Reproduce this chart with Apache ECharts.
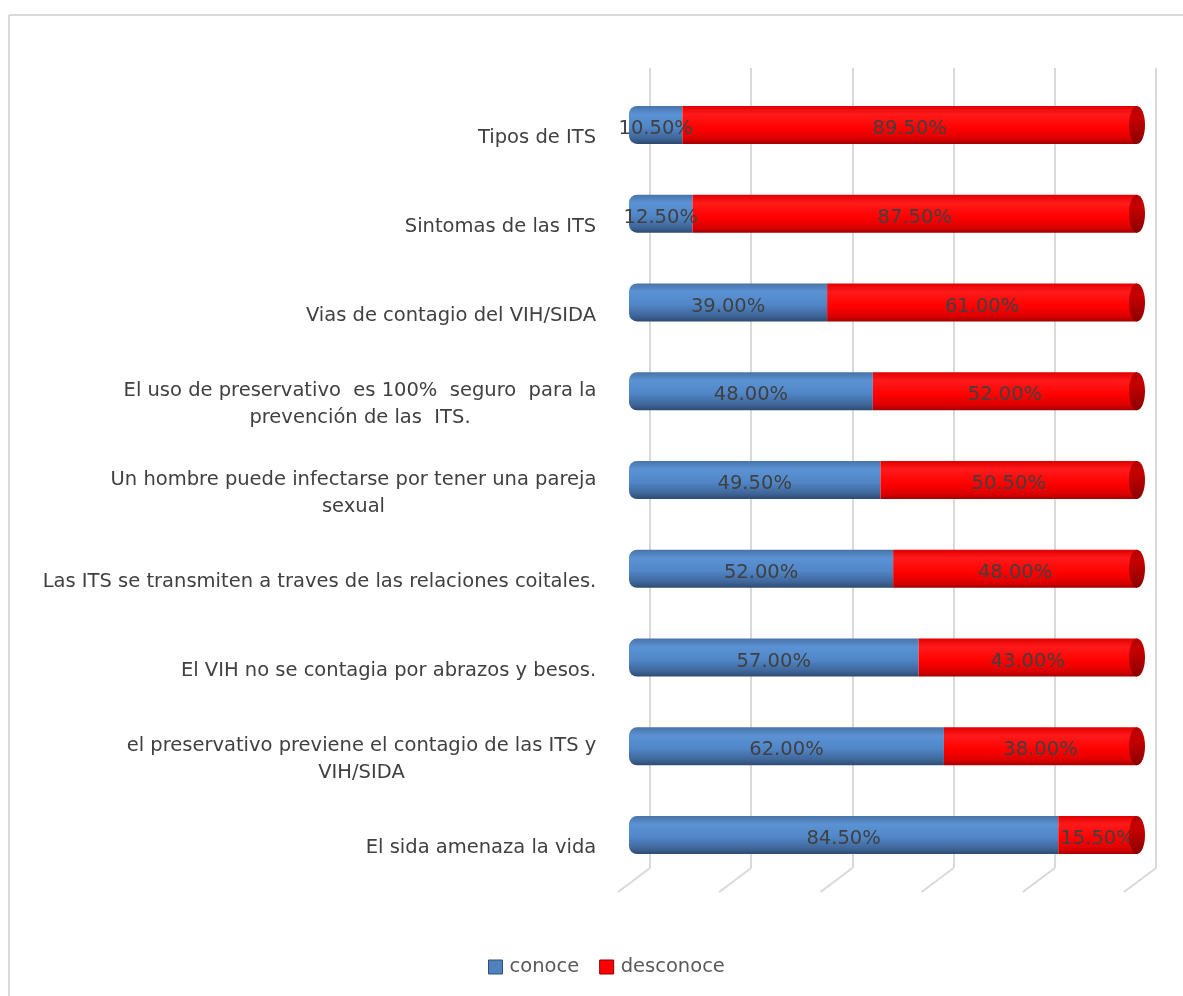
<!DOCTYPE html>
<html>
<head>
<meta charset="utf-8">
<script src="https://cdn.jsdelivr.net/npm/echarts@6/dist/echarts.min.js"></script>
<style>
  html, body { margin: 0; padding: 0; background: #ffffff; }
  #chart { width: 1183px; height: 996px; }
</style>
</head>
<body>
<div id="chart"></div>
<script>
// Survey items, top to bottom
const categories = [
  'Tipos de ITS',
  'Sintomas de las ITS',
  'Vias de contagio del VIH/SIDA',
  'El uso de preservativo  es 100%  seguro  para la\nprevención de las  ITS.',
  'Un hombre puede infectarse por tener una pareja\nsexual',
  'Las ITS se transmiten a traves de las relaciones coitales.',
  'El VIH no se contagia por abrazos y besos.',
  'el preservativo previene el contagio de las ITS y\nVIH/SIDA',
  'El sida amenaza la vida'
];
// Percent of respondents
const conoce    = [10.5, 12.5, 39.0, 48.0, 49.5, 52.0, 57.0, 62.0, 84.5];
const desconoce = [89.5, 87.5, 61.0, 52.0, 50.5, 48.0, 43.0, 38.0, 15.5];
// Back-wall gridline positions (percent)
const gridTicks = [0, 20, 40, 60, 80, 100];

const FONT_FAMILY = 'DejaVu Sans';
const FONT_SIZE = 19.5;
const TEXT_COLOR = '#404040';

// Multi-line category labels: centre each line inside a box as wide as the longest line
const measure = document.createElement('canvas').getContext('2d');
measure.font = FONT_SIZE + 'px "' + FONT_FAMILY + '"';
const rich = {};
categories.forEach(function (c, i) {
  const lines = c.split('\n');
  const w = Math.max.apply(null, lines.map(function (l) { return measure.measureText(l).width; }));
  rich['c' + i] = {
    width: Math.ceil(w) + 1, align: 'center',
    fontSize: FONT_SIZE, fontFamily: FONT_FAMILY, color: TEXT_COLOR, lineHeight: 27
  };
});

const blueFill = new echarts.graphic.LinearGradient(0, 0, 0, 1, [
  { offset: 0, color: '#4873a8' },
  { offset: 0.22, color: '#5b92d4' },
  { offset: 0.55, color: '#5187c8' },
  { offset: 0.85, color: '#3f6699' },
  { offset: 1, color: '#2d4b72' }
]);
const redFill = new echarts.graphic.LinearGradient(0, 0, 0, 1, [
  { offset: 0, color: '#e00000' },
  { offset: 0.22, color: '#ff1a1a' },
  { offset: 0.6, color: '#ff0000' },
  { offset: 0.88, color: '#d80000' },
  { offset: 1, color: '#a00000' }
]);
const capFill = new echarts.graphic.LinearGradient(0, 0, 0, 1, [
  { offset: 0, color: '#b00000' },
  { offset: 0.3, color: '#c80000' },
  { offset: 1, color: '#8a0000' }
]);

const labelStyle = {
  show: true,
  position: 'inside',
  offset: [0, 4],
  color: TEXT_COLOR,
  fontSize: FONT_SIZE,
  fontFamily: FONT_FAMILY,
  formatter: function (p) { return p.value.toFixed(2) + '%'; }
};

const chart = echarts.init(document.getElementById('chart'), null, { renderer: 'canvas' });

chart.setOption({
  animation: false,
  backgroundColor: '#ffffff',
  graphic: [
    { type: 'line', shape: { x1: 9, y1: 15, x2: 1183, y2: 15 }, style: { stroke: '#d9d9d9', lineWidth: 2 }, silent: true },
    { type: 'line', shape: { x1: 9, y1: 15, x2: 9, y2: 996 }, style: { stroke: '#d9d9d9', lineWidth: 2 }, silent: true }
  ],
  legend: {
    left: 483,
    top: 952,
    itemWidth: 14,
    itemHeight: 14,
    itemGap: 20,
    icon: 'rect',
    textStyle: { fontSize: FONT_SIZE, fontFamily: FONT_FAMILY, color: '#595959', padding: [0, 0, 0, 2] },
    data: [
      { name: 'conoce', itemStyle: { color: '#4f81bd', borderColor: '#2f4f78', borderWidth: 1 } },
      { name: 'desconoce', itemStyle: { color: '#ff0000', borderColor: '#900000', borderWidth: 1 } }
    ]
  },
  grid: [
    // back wall with gridlines
    { left: 650, right: 27, top: 68, bottom: 128 },
    // bars
    { left: 629, right: 46, top: 80.5, bottom: 116.5 }
  ],
  xAxis: [
    {
      gridIndex: 0, type: 'value', min: 0, max: 100, interval: 20,
      axisLine: { show: false }, axisTick: { show: false }, axisLabel: { show: false },
      splitLine: { show: true, lineStyle: { color: '#d9d9d9', width: 2 } }
    },
    {
      gridIndex: 1, type: 'value', min: 0, max: 100,
      axisLine: { show: false }, axisTick: { show: false }, axisLabel: { show: false },
      splitLine: { show: false }
    }
  ],
  yAxis: [
    { gridIndex: 0, type: 'value', min: 0, max: 1, show: false },
    {
      gridIndex: 1, type: 'category', data: categories, inverse: true,
      axisLine: { show: false }, axisTick: { show: false },
      axisLabel: {
        margin: 32,
        padding: [26, 0, 0, 0],
        formatter: function (v, i) {
          return v.split('\n').map(function (l) { return '{c' + i + '|' + l + '}'; }).join('\n');
        },
        rich: rich
      }
    }
  ],
  series: [
    {
      // floor edges of the gridlines
      type: 'custom',
      xAxisIndex: 0, yAxisIndex: 0,
      data: gridTicks,
      silent: true,
      z: 1,
      renderItem: function (params, api) {
        const p = api.coord([api.value(0), 0]);
        return {
          type: 'line',
          shape: { x1: p[0], y1: p[1], x2: p[0] - 32, y2: p[1] + 24 },
          style: { stroke: '#d9d9d9', lineWidth: 2 }
        };
      }
    },
    {
      name: 'conoce', type: 'bar', stack: 'total',
      xAxisIndex: 1, yAxisIndex: 1,
      data: conoce, barWidth: 38,
      itemStyle: { color: blueFill, borderRadius: [8, 0, 0, 8] },
      label: labelStyle,
      z: 3
    },
    {
      name: 'desconoce', type: 'bar', stack: 'total',
      xAxisIndex: 1, yAxisIndex: 1,
      data: desconoce, barWidth: 38,
      itemStyle: { color: redFill },
      label: labelStyle,
      z: 3
    },
    {
      // end caps of the cylinders at the stack total
      type: 'custom',
      xAxisIndex: 1, yAxisIndex: 1,
      data: conoce.map(function (v, i) { return [v + desconoce[i], i]; }),
      silent: true,
      z: 4,
      renderItem: function (params, api) {
        const p = api.coord([api.value(0), api.value(1)]);
        return {
          type: 'ellipse',
          shape: { cx: p[0], cy: p[1], rx: 8, ry: 19 },
          style: { fill: capFill }
        };
      }
    }
  ]
});
</script>
</body>
</html>
